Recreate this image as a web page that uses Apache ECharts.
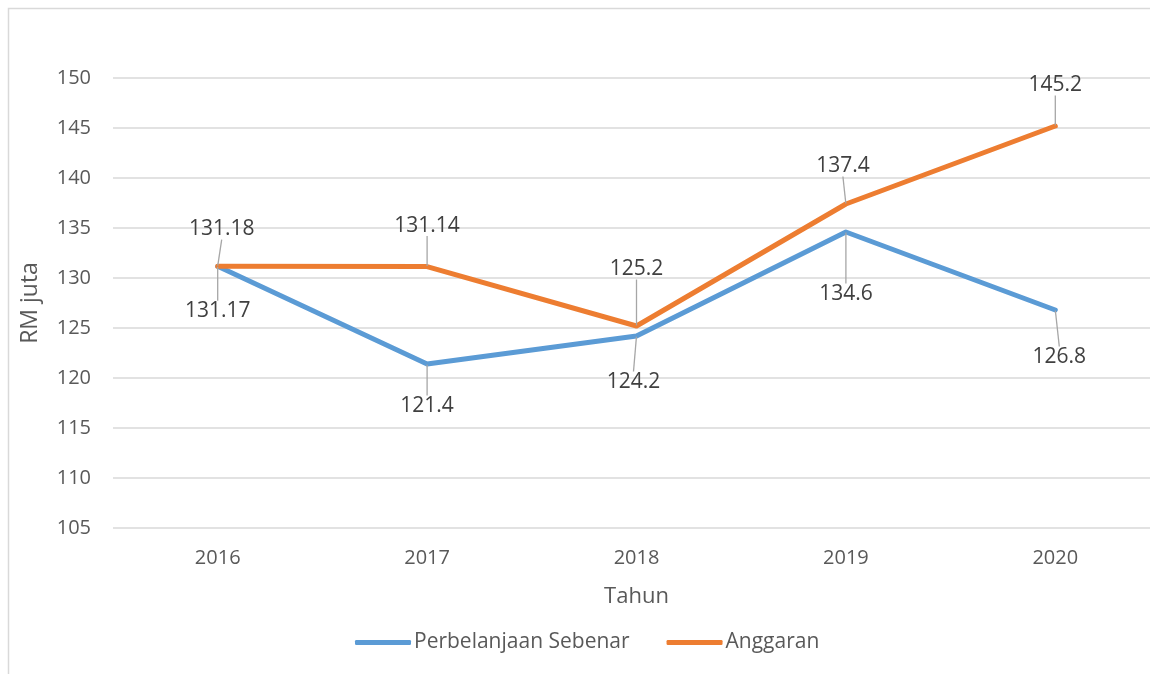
<!DOCTYPE html>
<html>
<head>
<meta charset="utf-8">
<script src="https://cdn.jsdelivr.net/npm/echarts@6/dist/echarts.min.js"></script>
<style>
html,body{margin:0;padding:0;background:#fff;overflow:hidden;}
#chart{width:1175px;height:674px;}
</style>
</head>
<body>
<div id="chart"></div>
<script>
var categories = ['2016', '2017', '2018', '2019', '2020'];
var seriesNames = ['Perbelanjaan Sebenar', 'Anggaran'];
var actualValues = [131.17, 121.4, 124.2, 134.6, 126.8];
var budgetValues = [131.18, 131.14, 125.2, 137.4, 145.2];
var yTicks = [105, 110, 115, 120, 125, 130, 135, 140, 145, 150];

// label offsets (pixels) relative to the point, for leader-line placement
var actualLabelOffsets = [[0, 45], [0, 42], [-3, 46], [0, 62], [4, 47]];
var budgetLabelOffsets = [[4, -37], [0, -41], [0, -57], [-3, -38], [0, -41]];

var font = 'Open Sans';
var chart = echarts.init(document.getElementById('chart'), null, {renderer: 'canvas'});

function makeSeries(name, values, offsets, color) {
  return {
    name: name,
    type: 'line',
    data: values,
    symbol: 'circle',
    symbolSize: 1,
    showSymbol: true,
    lineStyle: {color: color, width: 5, cap: 'round', join: 'round'},
    itemStyle: {color: color},
    emphasis: {disabled: true},
    label: {
      show: true,
      position: 'inside',
      color: '#404040',
      fontFamily: font,
      fontSize: 21,
      formatter: function (p) { return String(p.value); }
    },
    labelLayout: function (p) {
      var o = offsets[p.dataIndex];
      return {dx: o[0], dy: o[1]};
    },
    labelLine: {
      show: true,
      showAbove: false,
      lineStyle: {color: '#a6a6a6', width: 1.3}
    }
  };
}

chart.setOption({
  animation: false,
  backgroundColor: '#fff',
  graphic: [{
    type: 'rect',
    shape: {x: 8.5, y: 8.5, width: 1200, height: 700},
    style: {fill: 'none', stroke: '#d9d9d9', lineWidth: 1.5},
    silent: true,
    z: -10
  }],
  grid: {left: 113, top: 78, width: 1047, bottom: 146},
  legend: {
    left: 350,
    top: 627,
    itemWidth: 56,
    itemHeight: 5,
    itemGap: 37,
    icon: 'roundRect',
    textStyle: {color: '#595959', fontFamily: font, fontSize: 21, padding: [0, 0, 0, -2]},
    data: seriesNames
  },
  xAxis: {
    type: 'category',
    data: categories,
    boundaryGap: true,
    name: 'Tahun',
    nameLocation: 'middle',
    nameGap: 58,
    nameTextStyle: {color: '#595959', fontFamily: font, fontSize: 22},
    axisLine: {show: false},
    axisTick: {show: false},
    axisLabel: {color: '#595959', fontFamily: font, fontSize: 20, margin: 20}
  },
  yAxis: {
    type: 'value',
    min: yTicks[0],
    max: yTicks[yTicks.length - 1],
    interval: yTicks[1] - yTicks[0],
    name: 'RM juta',
    nameLocation: 'middle',
    nameGap: 71,
    nameTextStyle: {color: '#595959', fontFamily: font, fontSize: 23},
    axisLine: {show: false},
    axisTick: {show: false},
    axisLabel: {color: '#595959', fontFamily: font, fontSize: 20, margin: 22},
    splitLine: {lineStyle: {color: '#d9d9d9', width: 1.5}}
  },
  series: [
    makeSeries(seriesNames[0], actualValues, actualLabelOffsets, '#5B9BD5'),
    makeSeries(seriesNames[1], budgetValues, budgetLabelOffsets, '#ED7D31')
  ]
});
</script>
</body>
</html>
